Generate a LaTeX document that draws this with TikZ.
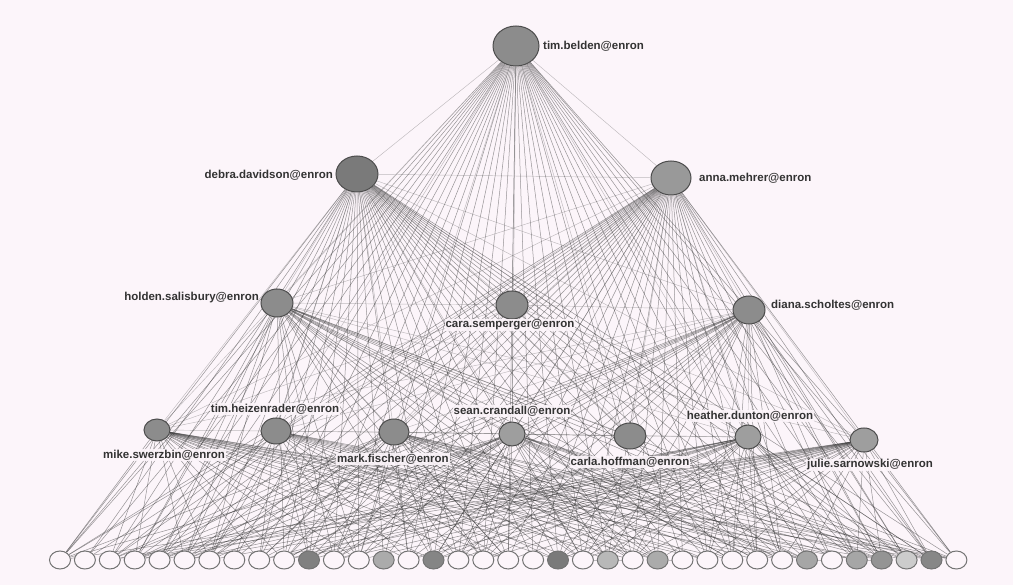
\documentclass[tikz,border=0pt]{standalone}
\usepackage{fontspec}
\setmainfont{Liberation Sans}
\usetikzlibrary{shapes.geometric}
\pgfdeclarelayer{bg}
\pgfdeclarelayer{edges}
\pgfsetlayers{bg,edges,main}
\definecolor{paper}{HTML}{FCF5FA}
\tikzset{
  person/.style={ellipse,draw=black!70,line width=1pt,fill=black!45,inner sep=0pt},
  leaf/.style={ellipse,draw=black!55,line width=1pt,fill=paper,inner sep=0pt,minimum width=21pt,minimum height=18pt},
  lbl/.style={font=\fontsize{11.5}{11.5}\selectfont\bfseries,text=black!80,inner sep=1pt},
  boxlbl/.style={lbl,fill=paper,fill opacity=0.9,text opacity=1},
  link/.style={draw=black!80,line width=0.5pt,opacity=0.5},
  weak/.style={draw=black!70,line width=0.45pt,opacity=0.35}
}
\begin{document}
\begin{tikzpicture}[x=1pt,y=-1pt]
\begin{pgfonlayer}{bg}
\fill[paper] (0,0) rectangle (1013,585);
\end{pgfonlayer}
\useasboundingbox (0,0) rectangle (1013,585);
% upper nodes
\node[person,minimum width=46pt,minimum height=40pt,fill=black!45] (t) at (516,46) {};
\node[person,minimum width=42pt,minimum height=36pt,fill=black!52] (dd) at (357,174) {};
\node[person,minimum width=40pt,minimum height=34pt,fill=black!40] (am) at (671,178) {};
\node[person,minimum width=32pt,minimum height=28pt] (hs) at (277,303) {};
\node[person,minimum width=32pt,minimum height=28pt] (cs) at (512,305) {};
\node[person,minimum width=32pt,minimum height=28pt] (ds) at (749,310) {};
\node[person,minimum width=26pt,minimum height=22pt] (ms) at (157,430) {};
\node[person,minimum width=30pt,minimum height=26pt] (th) at (276,431) {};
\node[person,minimum width=30pt,minimum height=26pt] (mf) at (394,432) {};
\node[person,minimum width=26pt,minimum height=24pt,fill=black!38] (sc) at (512,434) {};
\node[person,minimum width=32pt,minimum height=26pt] (ch) at (630,436) {};
\node[person,minimum width=26pt,minimum height=24pt,fill=black!38] (hd) at (748,437) {};
\node[person,minimum width=28pt,minimum height=24pt,fill=black!38] (js) at (864,440) {};
% bottom nodes
\foreach \i/\c in {0/paper,1/paper,2/paper,3/paper,4/paper,5/paper,6/paper,7/paper,8/paper,9/paper,
  10/black!50,11/paper,12/paper,13/black!33,14/paper,15/black!48,16/paper,17/paper,18/paper,19/paper,
  20/black!52,21/paper,22/black!28,23/paper,24/black!33,25/paper,26/paper,27/paper,28/paper,29/paper,
  30/black!35,31/paper,32/black!35,33/black!42,34/black!20,35/black!47,36/paper}
  \node[leaf,fill=\c] (b\i) at ({60+24.9*\i},560) {};
% labels
\node[lbl,anchor=west] (lt) at (542,46) {tim.belden@enron};
\node[lbl,anchor=east] (ldd) at (334,175) {debra.davidson@enron};
\node[lbl,anchor=west] (lam) at (698,178) {anna.mehrer@enron};
\node[lbl,anchor=east] (lhs) at (260,298) {holden.salisbury@enron};
\node[boxlbl] (lcs) at (510,325) {cara.semperger@enron};
\node[lbl,anchor=west] (lds) at (770,305) {diana.scholtes@enron};
\node[boxlbl] (lms) at (164,455) {mike.swerzbin@enron};
\node[boxlbl] (lth) at (275,409) {tim.heizenrader@enron};
\node[boxlbl] (lmf) at (393,459) {mark.fischer@enron};
\node[boxlbl] (lsc) at (512,411) {sean.crandall@enron};
\node[boxlbl] (lch) at (630,462) {carla.hoffman@enron};
\node[boxlbl] (lhd) at (750,416) {heather.dunton@enron};
\node[boxlbl] (ljs) at (870,465) {julie.sarnowski@enron};
% edges
\begin{pgfonlayer}{edges}
\foreach \u/\k in {t/1,dd/2,am/3,hs/4,cs/5,ds/6,ms/7,th/8,mf/9,sc/10,ch/11,hd/12,js/13}{
  \foreach \i in {0,...,36}{
    \pgfmathtruncatemacro\r{mod(\i*7+\k*11+\i*\k,6)}
    \ifnum\k<4
      \draw[link] (\u) -- (b\i);
    \else
      \ifnum\r>1 \draw[link] (\u) -- (b\i); \fi
    \fi
  }
}
\foreach \a/\b in {t/dd,t/am,t/hs,t/cs,t/ds,t/ms,t/th,t/mf,t/sc,t/ch,t/hd,t/js,
  dd/am,dd/hs,dd/cs,dd/ds,dd/ms,dd/th,dd/mf,dd/sc,dd/ch,dd/hd,dd/js,
  am/hs,am/cs,am/ds,am/ms,am/th,am/mf,am/sc,am/ch,am/hd,am/js,
  hs/cs,cs/ds,hs/mf,hs/sc,hs/ch,hs/hd,hs/js,cs/ms,cs/th,cs/mf,cs/sc,cs/ch,cs/hd,cs/js,
  ds/ms,ds/th,ds/mf,ds/sc,ds/ch,ds/hd,ds/js,
  th/mf,mf/sc,sc/ch,ch/hd,th/sc,mf/ch,sc/hd,ms/th}
  \draw[weak] (\a) -- (\b);
\draw[weak] (b21) -- (b22);
\draw[weak] (b22) -- (b23);
\draw[weak] (b24) -- (b25);
\draw[weak] (b30) -- (b31);
\draw[weak] (b32) -- (b33);
\end{pgfonlayer}
\end{tikzpicture}
\end{document}
